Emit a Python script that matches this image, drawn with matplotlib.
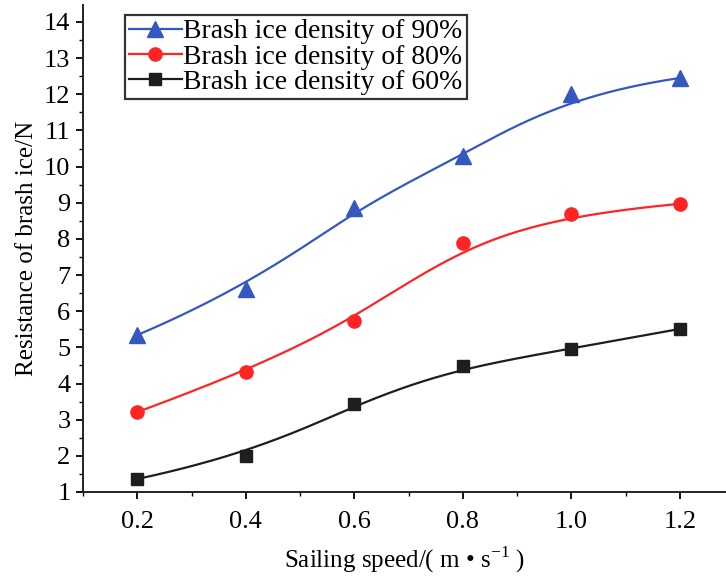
import numpy as np
import matplotlib
matplotlib.use('Agg')
import matplotlib.pyplot as plt
from matplotlib.ticker import MultipleLocator

plt.rcParams['font.family'] = ['Liberation Serif', 'DejaVu Serif']
plt.rcParams['mathtext.fontset'] = 'custom'
plt.rcParams['mathtext.rm'] = 'Liberation Serif'

speed = [0.2, 0.4, 0.6, 0.8, 1.0, 1.2]
res_90 = [5.34, 6.62, 8.86, 10.29, 12.01, 12.45]
res_80 = [3.21, 4.32, 5.73, 7.89, 8.69, 8.97]
res_60 = [1.36, 2.00, 3.43, 4.49, 4.96, 5.51]


def bspline(px, py, n=300):
    # clamped cubic B-spline using the points as control points
    px, py = np.asarray(px), np.asarray(py)
    k = 3
    m = len(px)
    knots = np.concatenate([np.zeros(k), np.arange(m - k + 1), np.full(k, m - k)]).astype(float)
    t = np.linspace(0, m - k, n)
    t[-1] -= 1e-9
    # Cox-de Boor
    N = np.zeros((n, len(knots) - 1))
    for i in range(len(knots) - 1):
        N[:, i] = (t >= knots[i]) & (t < knots[i + 1])
    for d in range(1, k + 1):
        Nn = np.zeros((n, len(knots) - 1 - d))
        for i in range(len(knots) - 1 - d):
            a = knots[i + d] - knots[i]
            b = knots[i + d + 1] - knots[i + 1]
            left = (t - knots[i]) / a * N[:, i] if a > 0 else 0
            right = (knots[i + d + 1] - t) / b * N[:, i + 1] if b > 0 else 0
            Nn[:, i] = left + right
        N = Nn
    return N @ px, N @ py


fig = plt.figure(figsize=(7.26, 5.78), dpi=100)
ax = fig.add_axes([0.1143, 0.1488, 0.8857, 0.8426])

series = [
    (res_90, '#3558c0', '^', 11, 'Brash ice density of 90%'),
    (res_80, '#ff2424', 'o', 9.5, 'Brash ice density of 80%'),
    (res_60, '#1e1e1e', 's', 8, 'Brash ice density of 60%'),
]

for vals, col, mk, ms, lab in series:
    cx, cy = bspline(speed, vals)
    ax.plot(cx, cy, color=col, lw=1.6)
    ax.plot(speed, vals, linestyle='none', marker=mk, ms=ms, color=col)
    ax.plot([], [], color=col, lw=1.6, marker=mk, ms=ms, label=lab)

ax.set_xlim(0.1, 1.285)
ax.set_ylim(1, 14.47)
ax.set_xticks(speed)
ax.set_xticklabels(['0.2', '0.4', '0.6', '0.8', '1.0', '1.2'])
ax.set_yticks(range(1, 15))
ax.xaxis.set_minor_locator(MultipleLocator(0.1))
ax.yaxis.set_minor_locator(MultipleLocator(0.5))
ax.tick_params(which='major', direction='out', length=5, width=1.3, labelsize=19)
ax.tick_params(axis='x', which='major', pad=9)
ax.tick_params(axis='y', which='major', pad=4)
ax.tick_params(which='minor', direction='out', length=3, width=1.0)

ax.spines['top'].set_visible(False)
ax.spines['right'].set_visible(False)
for s in ['left', 'bottom']:
    ax.spines[s].set_linewidth(1.4)
    ax.spines[s].set_color('#222222')

ax.set_xlabel('Sailing speed/( m \u2022 s$^{\\mathrm{-1}}$ )', fontsize=18, labelpad=8)
ax.set_ylabel('Resistance of brash ice/N', fontsize=18, labelpad=4)

leg = ax.legend(loc='upper left', bbox_to_anchor=(0.065, 0.98), borderaxespad=0,
                fontsize=20, handlelength=1.9, handletextpad=0.05, labelspacing=0.0,
                borderpad=0.15, fancybox=False, frameon=True)
leg.get_frame().set_edgecolor('black')
leg.get_frame().set_linewidth(1.6)

fig.savefig('out.png', dpi=100)
